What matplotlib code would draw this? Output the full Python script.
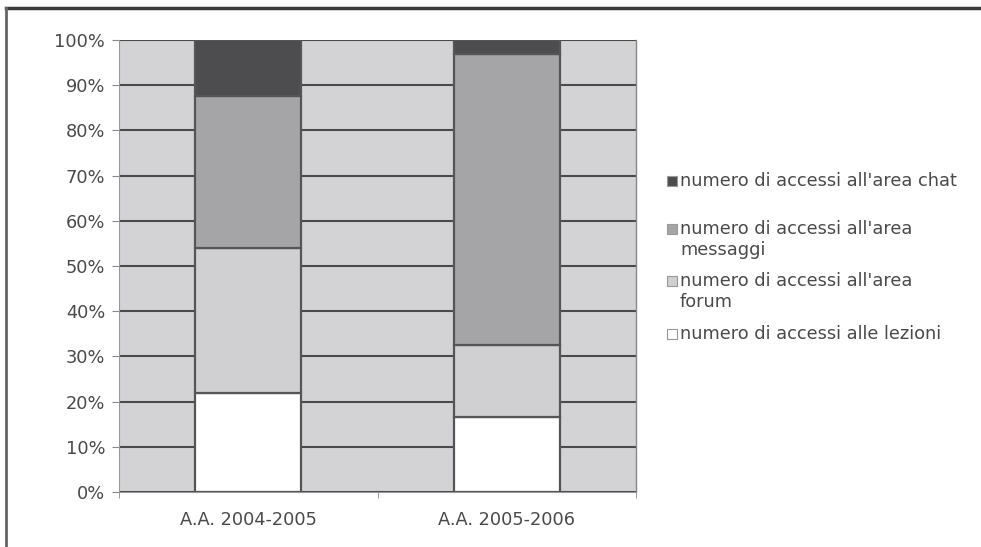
import matplotlib
matplotlib.use("Agg")
import matplotlib.pyplot as plt
from matplotlib.patches import Rectangle
from matplotlib.lines import Line2D
import numpy as np

categories = ["A.A. 2004-2005", "A.A. 2005-2006"]
lezioni = [22.0, 16.5]
forum = [32.0, 16.0]
messaggi = [33.5, 64.5]
chat = [12.5, 3.0]
series_labels = [
    "numero di accessi alle lezioni",
    "numero di accessi all'area\nforum",
    "numero di accessi all'area\nmessaggi",
    "numero di accessi all'area chat",
]
series_colors = ["#ffffff", "#d0d0d2", "#a5a5a8", "#4d4d50"]
yticks = list(range(0, 101, 10))

FS = 12.8
TXT = "#4a4a4a"

fig = plt.figure(figsize=(9.81, 5.47), dpi=100)
fig.patch.set_facecolor("white")
ax = fig.add_axes([119/981, 1-492/547, (636-119)/981, (492-40)/547])
ax.set_facecolor("#d3d3d5")

x = np.arange(len(categories))
width = 0.41
edge = "#555557"
bottom = np.zeros(len(categories))
for vals, col in zip([lezioni, forum, messaggi, chat], series_colors):
    ax.bar(x, vals, width, bottom=bottom, color=col, edgecolor=edge,
           linewidth=1.6, zorder=3)
    bottom += np.array(vals)

ax.set_ylim(0, 100)
ax.set_xlim(-0.5, 1.5)
ax.set_yticks(yticks)
ax.set_yticklabels([f"{t}%" for t in yticks])
ax.yaxis.grid(True, color="#4a4a4c", linewidth=1.5, zorder=1)
ax.set_axisbelow(True)
ax.set_xticks(x)
ax.set_xticklabels(categories)
ax.set_xticks([-0.5, 0.5, 1.5], minor=True)
ax.tick_params(axis="x", which="major", length=0, pad=14, labelsize=FS,
               labelcolor=TXT)
ax.tick_params(axis="x", which="minor", length=4, color="#888888")
ax.tick_params(axis="y", length=5, color="#888888", pad=5, labelsize=FS,
               labelcolor=TXT)
for s in ["top", "right"]:
    ax.spines[s].set_color("#888888")
    ax.spines[s].set_linewidth(1.0)
ax.spines["left"].set_color("#999999")
ax.spines["bottom"].set_color("#999999")
ax.spines["top"].set_visible(False)

# legend (manual placement)
legend_rows = [
    (3, 181, series_labels[3]),
    (2, 229, series_labels[2]),
    (1, 281, series_labels[1]),
    (0, 334, series_labels[0]),
]
for idx, ypix, lab in legend_rows:
    fig.patches.append(Rectangle((667/981, 1-(ypix+5)/547), 10/981, 10/547,
                                 transform=fig.transFigure,
                                 facecolor=series_colors[idx],
                                 edgecolor="#999999", linewidth=0.8))
    fig.text(680/981, 1-(ypix-9)/547, lab, fontsize=FS, color=TXT,
             va="top", ha="left", linespacing=1.2)

# outer frame lines (top and left)
fig.add_artist(Line2D([6/981, 1], [1-8/547, 1-8/547], transform=fig.transFigure,
                      color="#3a3a3a", linewidth=2.5))
fig.add_artist(Line2D([6/981, 6/981], [0, 1-8/547], transform=fig.transFigure,
                      color="#666666", linewidth=2))

fig.savefig("out.png", dpi=100)
